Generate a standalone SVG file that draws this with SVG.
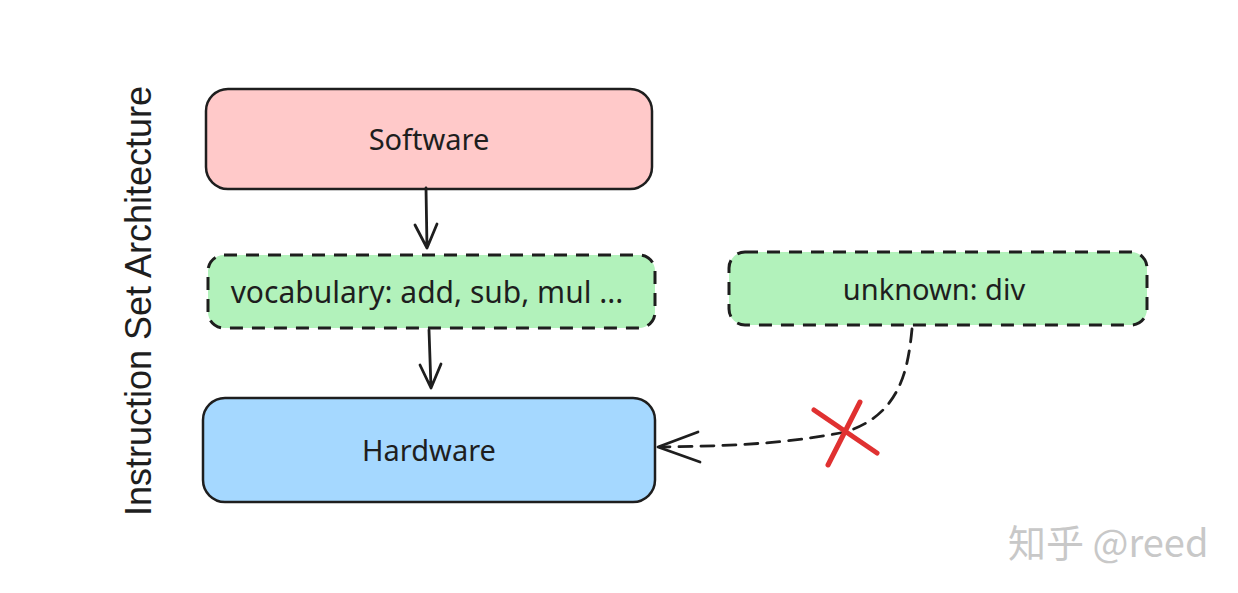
<svg xmlns="http://www.w3.org/2000/svg" width="1238" height="593" viewBox="0 0 1238 593">
<defs>
<style>
.box{stroke:#1e1e1e;stroke-width:2.5}
.dash{stroke-dasharray:13 9;stroke-width:3}
.lbl{font-family:"Noto Sans","Open Sans",sans-serif;font-size:29px;fill:#1e1e1e;text-anchor:middle;dominant-baseline:central}
.conn{fill:none;stroke:#1e1e1e;stroke-width:2.8;stroke-linecap:round;stroke-linejoin:round}
</style>
</defs>
<rect width="1238" height="593" fill="#ffffff"/>
<text x="138" y="301" transform="rotate(-90 138 301)" font-family="Liberation Sans, Arial, sans-serif" font-size="36" fill="#1e1e1e" text-anchor="middle" dominant-baseline="central">Instruction Set Architecture</text>
<g id="software">
<rect class="box" x="206" y="89" width="446" height="100" rx="22" fill="#ffc9c9"/>
<text class="lbl" x="429" y="138">Software</text>
</g>
<g id="vocabulary">
<rect class="box dash" x="208" y="255" width="447" height="73" rx="16" fill="#b2f2bb"/>
<text class="lbl" x="427" y="291" style="font-size:30px">vocabulary: add, sub, mul ...</text>
</g>
<g id="unknown">
<rect class="box dash" x="729" y="252" width="418" height="73" rx="16" fill="#b2f2bb"/>
<text class="lbl" x="934" y="288">unknown: div</text>
</g>
<g id="hardware">
<rect class="box" x="203" y="398" width="452" height="104" rx="22" fill="#a5d8ff"/>
<text class="lbl" x="429" y="449">Hardware</text>
</g>
<g id="connectors">
<path class="conn" d="M426 188 L427 248 M415 225 L427 248 L437 224"/>
<path class="conn" d="M429 330 L431 388 M420 365 L431 388 L441 364"/>
<path class="conn dash" d="M912 329 C908 370 900 415 845 432 C780 445 720 446 660 447"/>
<path class="conn" d="M698 432 L658 447 L700 462"/>
<g id="cross" stroke="#e03131" stroke-width="5" stroke-linecap="round">
<line x1="814" y1="410" x2="877" y2="453"/>
<line x1="860" y1="402" x2="828" y2="465"/>
</g>
</g>
<text x="1008" y="557" font-family="Noto Sans CJK SC, sans-serif" font-size="38" fill="#c8c8c8">知乎 @reed</text>
</svg>
